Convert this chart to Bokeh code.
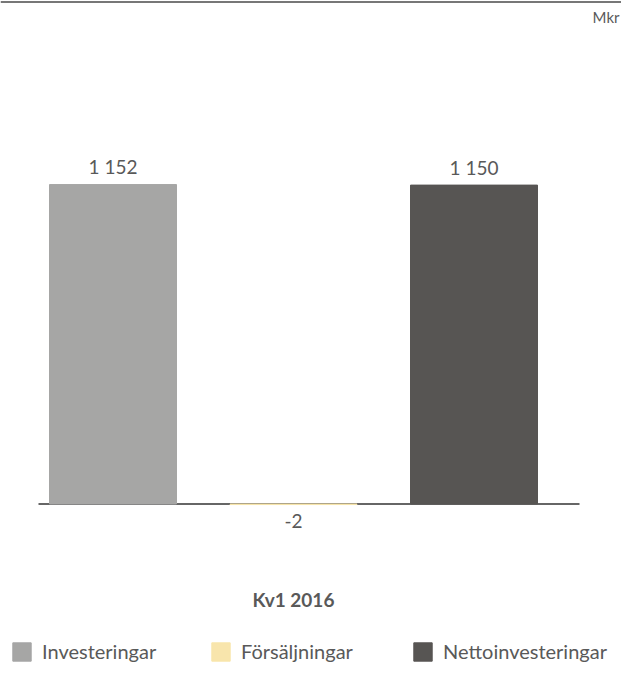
from bokeh.plotting import figure
from bokeh.models import Range1d, Span, Label, Legend, LegendItem
from bokeh.core.properties import value
from bokeh.embed import file_html
from bokeh.resources import INLINE

categories = ["Investeringar", "Försäljningar", "Nettoinvesteringar"]
values = [1152, -2, 1150]
value_labels = ["1 152", "-2", "1 150"]
colors = ["#A6A6A5", "#F8E5AC", "#575553"]
period = "Kv1 2016"
unit = "Mkr"

W, H = 621, 663
k = 0.2773          # px per unit
base_px = 503.5     # baseline from top of figure
step = 180.5        # px per category
c0 = 112.5          # px center of first category

y_end = base_px / k
y_start = -(H - base_px) / k
x_start = -c0 / step
x_end = (W - c0) / step

FONT = "Lato"
TXT = "#595959"

p = figure(width=W, height=H, output_backend="svg", toolbar_location=None,
           x_range=Range1d(x_start, x_end), y_range=Range1d(y_start, y_end),
           min_border=0, outline_line_color=None, background_fill_color="white",
           border_fill_color="white")
p.xaxis.visible = False
p.yaxis.visible = False
p.xgrid.visible = False
p.ygrid.visible = False

xs = list(range(len(categories)))

# top rule
p.add_layout(Span(location=y_end - 1.5 / k, dimension="width",
                  line_color="#777777", line_width=2))

# baseline axis line
p.segment(x0=[(38 - c0) / step], y0=[0], x1=[(579 - c0) / step], y1=[0],
          line_color="#666666", line_width=2)

src = dict(x=xs, top=values, color=colors, lab=value_labels, cat=categories)
r = p.vbar(x="x", top="top", bottom=0, width=127 / step, color="color",
           line_color="color", line_width=1, source=src)

pos = [i for i in xs if values[i] >= 0]
neg = [i for i in xs if values[i] < 0]
p.text(x=[xs[i] for i in pos], y=[values[i] for i in pos],
       text=[value_labels[i] for i in pos], text_align="center",
       text_baseline="alphabetic", y_offset=-18, text_font=value(FONT),
       text_font_size="19px", text_color=TXT)
p.text(x=[xs[i] for i in neg], y=[0 for i in neg],
       text=[value_labels[i] for i in neg], text_align="center",
       text_baseline="top", y_offset=10, text_font=value(FONT),
       text_font_size="19px", text_color=TXT)

p.add_layout(Label(x=1, y=H - 599, x_units="data", y_units="screen", text=period,
                   text_align="center", text_baseline="alphabetic",
                   text_font=FONT, text_font_size="19px", text_font_style="bold",
                   text_color=TXT))

p.add_layout(Label(x=W - 2, y=H - 16, x_units="screen", y_units="screen", text=unit,
                   text_align="right", text_baseline="alphabetic",
                   text_font=FONT, text_font_size="15px", text_color=TXT))

legend_x = [10, 209, 411]
for i in xs:
    lg = Legend(items=[LegendItem(label=categories[i], renderers=[r], index=i)],
                orientation="horizontal", location=(legend_x[i], 0),
                padding=0, margin=0, border_line_color=None,
                background_fill_alpha=0, glyph_width=23, glyph_height=23,
                label_height=23, label_standoff=9, label_text_font=FONT,
                label_text_font_size="20px", label_text_color=TXT,
                label_text_baseline="middle")
    p.add_layout(lg, "center")

open("out.html", "w").write(file_html(p, INLINE))
